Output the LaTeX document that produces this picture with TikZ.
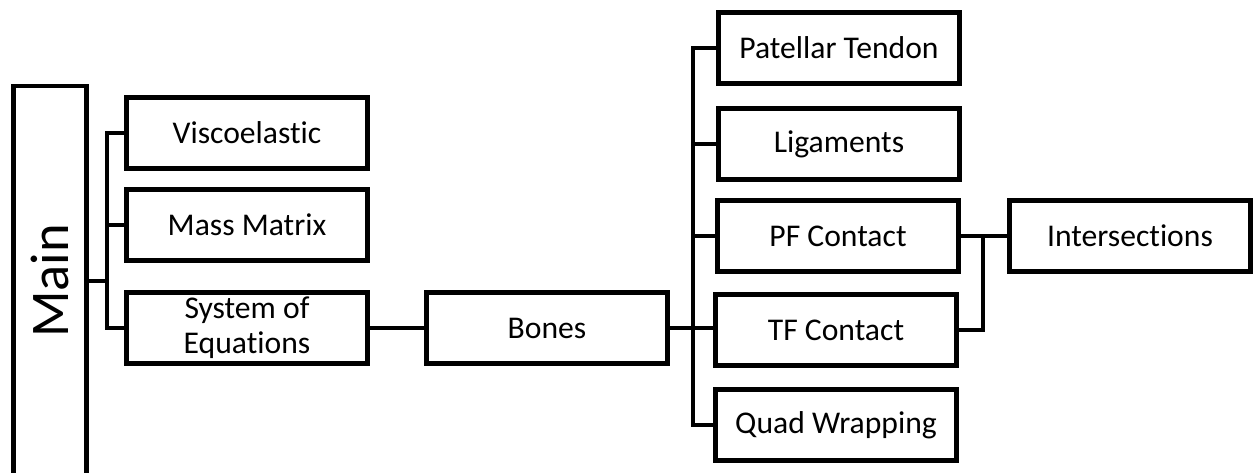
\documentclass[tikz,border=0pt]{standalone}
\usepackage{fontspec}
\setmainfont[Ligatures=NoCommon]{Carlito}
\usetikzlibrary{calc,positioning}
\newcommand{\blockfont}{\fontsize{18}{19.8}\selectfont}
\newcommand{\mainfont}{\fontsize{31}{37}\selectfont}

\tikzset{
  block/.style={draw, line width=2.6pt, minimum width=4.82cm, minimum height=1.43cm,
    inner sep=0pt, align=center, font=\blockfont},
  link/.style={line width=2.3pt},
}

\begin{document}
\begin{tikzpicture}[x=0.02cm,y=-0.02cm]
    \useasboundingbox (0,0) rectangle (1258,473);
    \clip (0,0) rectangle (1258,473);

    \node[block, minimum width=1.47cm, minimum height=7.8cm] (main) at (50,281)
      {\mainfont\rotatebox{90}{Main}};

    \node[block] (visco) at (247,133) {Viscoelastic};
    \node[block] (mass) at (247,225) {Mass Matrix};
    \node[block] (syseq) at (247,328) {System of\\Equations};

    \node[block] (bones) at (547,328) {Bones};

    \node[block] (pat) at (839,48) {Patellar Tendon};
    \node[block] (lig) at (839,144) {Ligaments};
    \node[block] (pf) at (838,236) {PF Contact};
    \node[block] (tf) at (836,330) {TF Contact};
    \node[block] (quad) at (836,425) {Quad Wrapping};

    \node[block] (inter) at (1130,236) {Intersections};

    \coordinate (busl) at (107,0);
    \coordinate (busr) at (693,0);
    \coordinate (busi) at (983,0);

    \draw[link] (main.east) -- (main.east -| busl);
    \draw[link] (visco.west) -- (visco.west -| busl) -- (syseq.west -| busl) -- (syseq.west);
    \draw[link] (mass.west) -- (mass.west -| busl);

    \draw[link] (syseq.east) -- (bones.west);

    \draw[link] (pat.west) -- (pat.west -| busr) -- (quad.west -| busr) -- (quad.west);
    \draw[link] (lig.west) -- (lig.west -| busr);
    \draw[link] (pf.west) -- (pf.west -| busr);
    \draw[link] (bones.east) -- (bones.east -| tf.west);

    \draw[link] (pf.east) -- (inter.west);
    \draw[link] (tf.east) -- (tf.east -| busi) -- (busi |- pf.east);
\end{tikzpicture}
\end{document}
